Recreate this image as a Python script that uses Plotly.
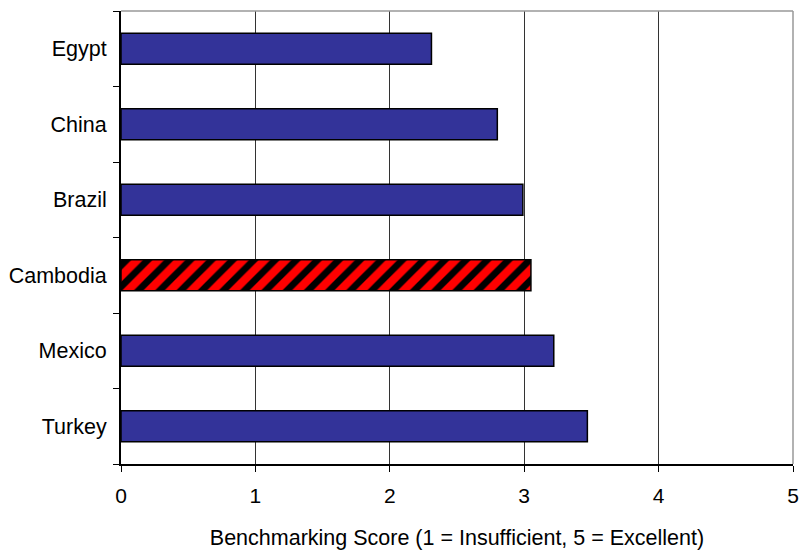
import plotly.graph_objects as go

# Benchmarking scores by country (top to bottom)
countries = ["Egypt", "China", "Brazil", "Cambodia", "Mexico", "Turkey"]
scores = [2.31, 2.80, 2.99, 3.05, 3.22, 3.47]
highlight = "Cambodia"

x_ticks = [0, 1, 2, 3, 4, 5]
x_title = "Benchmarking Score (1 = Insufficient, 5 = Excellent)"

base_y = [c for c in countries if c != highlight]
base_x = [s for c, s in zip(countries, scores) if c != highlight]
hl_x = [s for c, s in zip(countries, scores) if c == highlight]

fig = go.Figure()

# regular countries: solid navy bars
fig.add_trace(
    go.Bar(
        x=base_x,
        y=base_y,
        orientation="h",
        width=0.41,
        marker=dict(color="#333399", line=dict(color="#000000", width=1.5)),
        hoverinfo="x+y",
    )
)

# highlighted country: red bar with black diagonal hatching
fig.add_trace(
    go.Bar(
        x=hl_x,
        y=[highlight],
        orientation="h",
        width=0.41,
        marker=dict(
            color="#FF0000",
            line=dict(color="#000000", width=1.5),
            pattern=dict(
                shape="/",
                fillmode="replace",
                bgcolor="#FF0000",
                fgcolor="#000000",
                fgopacity=1,
                size=15,
                solidity=0.45,
            ),
        ),
        hoverinfo="x+y",
    )
)

font_family = "Liberation Sans, Arial, sans-serif"

fig.update_layout(
    width=799,
    height=550,
    margin=dict(l=121, r=6, t=11, b=86, autoexpand=False),
    paper_bgcolor="white",
    plot_bgcolor="white",
    showlegend=False,
    barmode="overlay",
    font=dict(family=font_family, size=21, color="#000000"),
)

fig.update_xaxes(
    range=[0, 5],
    tickvals=x_ticks,
    ticktext=[str(v) for v in x_ticks],
    automargin=False,
    showgrid=True,
    gridcolor="#333333",
    gridwidth=1,
    zeroline=False,
    showline=True,
    linecolor="#000000",
    linewidth=1.5,
    ticks="outside",
    ticklen=6,
    tickcolor="#000000",
    tickfont=dict(size=21),
    ticklabelstandoff=6,
    title=dict(text=x_title, font=dict(size=21.5), standoff=24),
)

fig.update_yaxes(
    categoryorder="array",
    categoryarray=countries[::-1],
    automargin=False,
    tickson="boundaries",
    ticks="outside",
    ticklen=6,
    tickcolor="#000000",
    showgrid=False,
    zeroline=False,
    showline=True,
    linecolor="#000000",
    linewidth=2,
    tickfont=dict(size=21.5),
    ticklabelstandoff=8,
)

# light grey frame along the top and right of the plot area
fig.add_shape(type="line", xref="paper", yref="paper", x0=0, x1=1, y0=1, y1=1,
              line=dict(color="#999999", width=1.5))
fig.add_shape(type="line", xref="paper", yref="paper", x0=1, x1=1, y0=0, y1=1,
              line=dict(color="#999999", width=1.5))

fig.write_html("out.html")
